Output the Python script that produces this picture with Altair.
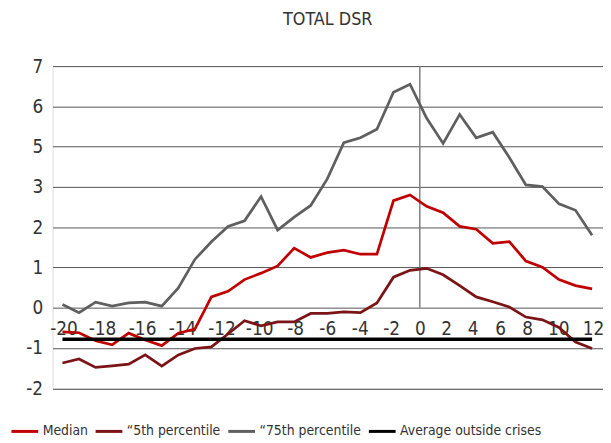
import altair as alt
import pandas as pd

# ---------------- data ----------------
periods = list(range(-20, 13))

median = [-0.60, -0.62, -0.82, -0.92, -0.63, -0.80, -0.94, -0.63, -0.53, 0.27,
          0.41, 0.70, 0.86, 1.04, 1.48, 1.25, 1.37, 1.43, 1.33, 1.33,
          2.66, 2.80, 2.52, 2.36, 2.02, 1.95, 1.60, 1.64, 1.16, 1.01,
          0.70, 0.55, 0.47]

p25 = [-1.37, -1.27, -1.48, -1.44, -1.40, -1.17, -1.45, -1.17, -1.01, -0.97,
       -0.65, -0.32, -0.45, -0.35, -0.35, -0.14, -0.14, -0.10, -0.12, 0.12,
       0.76, 0.93, 0.98, 0.82, 0.55, 0.27, 0.15, 0.02, -0.23, -0.30,
       -0.49, -0.85, -1.01]

p75 = [0.08, -0.12, 0.14, 0.04, 0.12, 0.14, 0.04, 0.49, 1.20, 1.64,
       2.02, 2.16, 2.76, 1.93, 2.25, 2.54, 3.20, 4.10, 4.22, 4.43,
       5.35, 5.55, 4.71, 4.08, 4.80, 4.22, 4.36, 3.73, 3.05, 3.01,
       2.58, 2.42, 1.80]

avg_outside = -0.78

series_names = ["Median", "\u201c5th percentile", "\u201c75th percentile",
                "Average outside crises"]
series_colors = ["#C00000", "#7B1416", "#5F5F5F", "#000000"]

# y gridlines (evenly spaced) and the labels printed at them
y_ticks = [-2, -1, 0, 1, 2, 3, 4, 5, 6]
y_tick_labels = ["-2", "-1", "0", "1", "2", "3", "5", "6", "7"]

# x labels and where they sit along the period axis
x_tick_labels = ["-20", "-18", "-16", "-14", "-12", "-10", "-8", "-6", "-4",
                 "-2", "0", "2", "4", "6", "8", "10", "12"]
x_tick_at = [-19.94, -17.61, -15.19, -12.78, -10.39, -8.12, -5.94, -4.0,
             -2.04, -0.14, 1.59, 3.18, 4.79, 6.44, 8.07, 9.96, 12.06]

# ---------------- tables ----------------
rows = []
for name, vals in zip(series_names[:3], [median, p25, p75]):
    for p, v in zip(periods, vals):
        rows.append({"period": p, "value": v, "series": name})
df = pd.DataFrame(rows)

avg_df = pd.DataFrame({"period": [periods[0]], "period2": [periods[-1]],
                       "value": [avg_outside], "series": [series_names[3]]})

zero_at = x_tick_at[x_tick_labels.index("0")]
vline_df = pd.DataFrame({"period": [zero_at], "y": [0], "y2": [y_ticks[-1]]})

# ---------------- chart ----------------
FONT = "DejaVu Sans Condensed"
W, H = 556, 325.5

xscale = alt.Scale(domain=[-20.6, 12.66], nice=False, zero=False)
yscale = alt.Scale(domain=[-2, 6], nice=False, zero=False)

x_lab_expr = f"{x_tick_labels}[indexof({x_tick_at}, datum.value)]"
y_lab_expr = f"{y_tick_labels}[datum.value + 2]"

xaxis = alt.Axis(values=x_tick_at, labelExpr=x_lab_expr, grid=False, domain=False,
                 ticks=False, title=None, labelFont=FONT, labelFontSize=19,
                 labelColor="#333333", labelPadding=12, labelFlush=False,
                 labelOverlap=False, offset=-(H * 2 / 8))
yaxis = alt.Axis(values=y_ticks, labelExpr=y_lab_expr, grid=True, gridColor="#555555",
                 gridWidth=1, domain=False, ticks=False, title=None, labelFont=FONT,
                 labelFontSize=19, labelColor="#333333", labelPadding=10)

color = alt.Color("series:N",
                  scale=alt.Scale(domain=series_names, range=series_colors),
                  legend=alt.Legend(title=None, orient="none", direction="horizontal",
                                    legendX=-43, legendY=354,
                                    symbolType="stroke", symbolSize=729,
                                    symbolStrokeWidth=3, labelFont=FONT,
                                    labelFontSize=14, labelColor="#333333",
                                    labelOffset=3, columnPadding=1))

vline = alt.Chart(vline_df).mark_rule(color="#808080", strokeWidth=1.5).encode(
    x=alt.X("period:Q", scale=xscale, axis=xaxis),
    y=alt.Y("y:Q", scale=yscale, axis=yaxis),
    y2="y2:Q",
)

lines = alt.Chart(df).mark_line(strokeWidth=2.75).encode(
    x=alt.X("period:Q", scale=xscale, axis=xaxis),
    y=alt.Y("value:Q", scale=yscale, axis=yaxis),
    color=color,
)

avg_rule = alt.Chart(avg_df).mark_rule(strokeWidth=3.5).encode(
    x=alt.X("period:Q", scale=xscale, axis=xaxis),
    x2="period2:Q",
    y=alt.Y("value:Q", scale=yscale, axis=yaxis),
    color=color,
)

chart = alt.layer(vline, lines, avg_rule).properties(
    width=W, height=H,
    title=alt.TitleParams("TOTAL DSR", font=FONT, fontSize=18, fontWeight="normal",
                          color="#333333", anchor="middle", frame="group", offset=29),
    autosize=alt.AutoSizeParams(type="none"),
    padding={"left": 45, "top": 56.5, "right": 0, "bottom": 50},
).configure_view(stroke=None).configure(background="white")

chart.save("out.html", embed_options={"renderer": "svg", "actions": False})
